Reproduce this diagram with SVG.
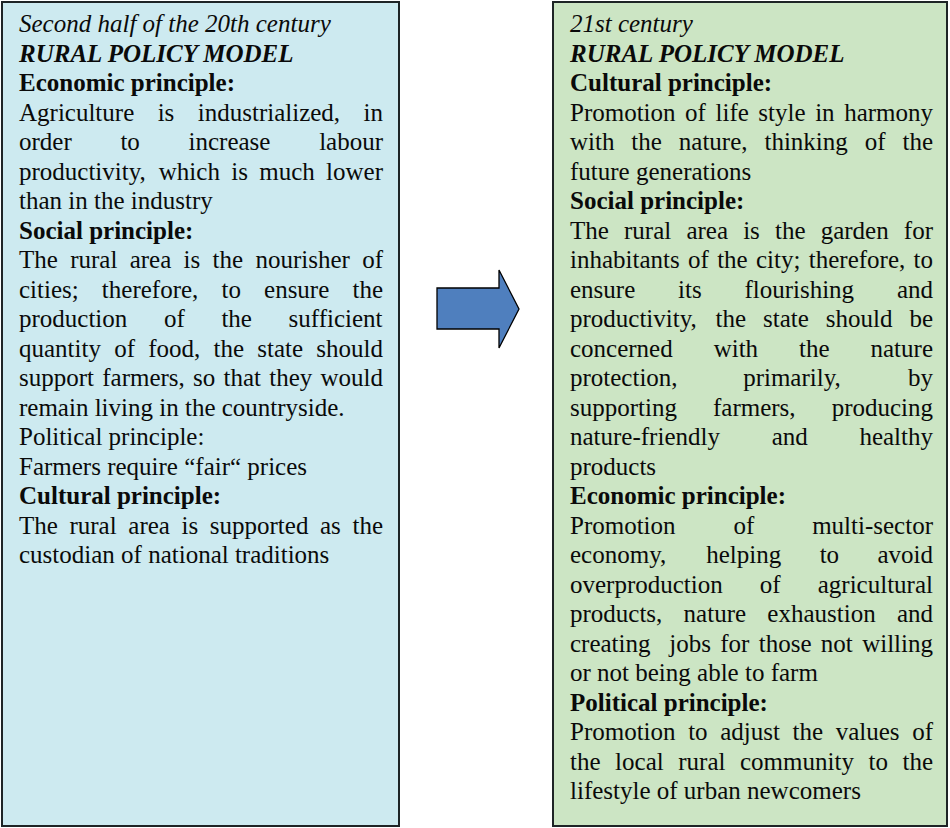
<svg xmlns="http://www.w3.org/2000/svg" width="950" height="828" viewBox="0 0 950 828">
  <style>
    .box { stroke: #1e2426; stroke-width: 2; }
    .blue { fill: #cdeaf0; }
    .green { fill: #cce5c4; }
    .t { font-family: "Liberation Serif", "Times New Roman", serif; font-size: 25px; fill: #0a0a0a; }
    .i { font-style: italic; }
    .b { font-weight: bold; }
    .arrow { fill: #4f7fbe; stroke: #000; stroke-width: 1.3; stroke-linejoin: miter; }
  </style>

  <!-- Left text box: 20th-century model -->
  <g id="model-20th-century">
    <rect class="box blue" x="2" y="2" width="397" height="824"/>
    <text class="t i" x="19" y="32">Second half of the 20th century</text>
    <text class="t i b" x="19" y="61.5">RURAL POLICY MODEL</text>
    <text class="t b" x="19" y="91">Economic principle:</text>
    <text class="t" y="120.5"><tspan x="19">Agriculture</tspan><tspan x="157.67">is</tspan><tspan x="197.77">industrialized,</tspan><tspan x="363.55">in</tspan></text>
    <text class="t" y="150"><tspan x="19">order</tspan><tspan x="120.43">to</tspan><tspan x="188.55">increase</tspan><tspan x="319.13">labour</tspan></text>
    <text class="t" y="179.5"><tspan x="19">productivity,</tspan><tspan x="158.79">which</tspan><tspan x="231.21">is</tspan><tspan x="259.21">much</tspan><tspan x="326.08">lower</tspan></text>
    <text class="t" x="19" y="209">than in the industry</text>
    <text class="t b" x="19" y="238.5">Social principle:</text>
    <text class="t" y="268"><tspan x="19">The</tspan><tspan x="70.18">rural</tspan><tspan x="129.68">area</tspan><tspan x="183.61">is</tspan><tspan x="212.59">the</tspan><tspan x="255.45">nourisher</tspan><tspan x="362.18">of</tspan></text>
    <text class="t" y="297.5"><tspan x="19">cities;</tspan><tspan x="101.86">therefore,</tspan><tspan x="221.47">to</tspan><tspan x="264.06">ensure</tspan><tspan x="352.45">the</tspan></text>
    <text class="t" y="327"><tspan x="19">production</tspan><tspan x="163.95">of</tspan><tspan x="221.4">the</tspan><tspan x="288.58">sufficient</tspan></text>
    <text class="t" y="356.5"><tspan x="19">quantity</tspan><tspan x="114.17">of</tspan><tspan x="148.22">food,</tspan><tspan x="213.51">the</tspan><tspan x="257.28">state</tspan><tspan x="316.33">should</tspan></text>
    <text class="t" y="386"><tspan x="19">support</tspan><tspan x="102.23">farmers,</tspan><tspan x="193.05">so</tspan><tspan x="223.5">that</tspan><tspan x="269.23">they</tspan><tspan x="320.5">would</tspan></text>
    <text class="t" x="19" y="415.5">remain living in the countryside.</text>
    <text class="t" x="19" y="445">Political principle:</text>
    <text class="t" x="19" y="474.5">Farmers require “fair“ prices</text>
    <text class="t b" x="19" y="504">Cultural principle:</text>
    <text class="t" y="533.5"><tspan x="19">The</tspan><tspan x="69.48">rural</tspan><tspan x="128.29">area</tspan><tspan x="181.52">is</tspan><tspan x="209.81">supported</tspan><tspan x="320.01">as</tspan><tspan x="352.45">the</tspan></text>
    <text class="t" x="19" y="563">custodian of national traditions</text>
  </g>

  <!-- Right text box: 21st-century model -->
  <g id="model-21st-century">
    <rect class="box green" x="553" y="2" width="394" height="824"/>
    <text class="t i" x="570" y="32">21st century</text>
    <text class="t i b" x="570" y="61.5">RURAL POLICY MODEL</text>
    <text class="t b" x="570" y="91">Cultural principle:</text>
    <text class="t" y="120.5"><tspan x="570">Promotion</tspan><tspan x="685.12">of</tspan><tspan x="715.49">life</tspan><tspan x="758.36">style</tspan><tspan x="815.13">in</tspan><tspan x="844.13">harmony</tspan></text>
    <text class="t" y="150"><tspan x="570">with</tspan><tspan x="631.36">the</tspan><tspan x="678.82">nature,</tspan><tspan x="764.46">thinking</tspan><tspan x="864.72">of</tspan><tspan x="902.45">the</tspan></text>
    <text class="t" x="570" y="179.5">future generations</text>
    <text class="t b" x="570" y="209">Social principle:</text>
    <text class="t" y="238.5"><tspan x="570">The</tspan><tspan x="624.03">rural</tspan><tspan x="686.38">area</tspan><tspan x="743.15">is</tspan><tspan x="774.98">the</tspan><tspan x="820.68">garden</tspan><tspan x="903.85">for</tspan></text>
    <text class="t" y="268"><tspan x="570">inhabitants</tspan><tspan x="688.03">of</tspan><tspan x="717.16">the</tspan><tspan x="756.02">city;</tspan><tspan x="808.77">therefore,</tspan><tspan x="913.55">to</tspan></text>
    <text class="t" y="297.5"><tspan x="570">ensure</tspan><tspan x="678.02">its</tspan><tspan x="744.41">flourishing</tspan><tspan x="896.9">and</tspan></text>
    <text class="t" y="327"><tspan x="570">productivity,</tspan><tspan x="715.44">the</tspan><tspan x="762.96">state</tspan><tspan x="825.76">should</tspan><tspan x="909.4">be</tspan></text>
    <text class="t" y="356.5"><tspan x="570">concerned</tspan><tspan x="713.66">with</tspan><tspan x="799.04">the</tspan><tspan x="870.53">nature</tspan></text>
    <text class="t" y="386"><tspan x="570">protection,</tspan><tspan x="743.16">primarily,</tspan><tspan x="908">by</tspan></text>
    <text class="t" y="415.5"><tspan x="570">supporting</tspan><tspan x="712.99">farmers,</tspan><tspan x="831.63">producing</tspan></text>
    <text class="t" y="445"><tspan x="570">nature-friendly</tspan><tspan x="771.63">and</tspan><tspan x="859.4">healthy</tspan></text>
    <text class="t" x="570" y="474.5">products</text>
    <text class="t b" x="570" y="504">Economic principle:</text>
    <text class="t" y="533.5"><tspan x="570">Promotion</tspan><tspan x="733.46">of</tspan><tspan x="812.18">multi-sector</tspan></text>
    <text class="t" y="563"><tspan x="570">economy,</tspan><tspan x="706.27">helping</tspan><tspan x="819.63">to</tspan><tspan x="877.45">avoid</tspan></text>
    <text class="t" y="592.5"><tspan x="570">overproduction</tspan><tspan x="759.84">of</tspan><tspan x="817.75">agricultural</tspan></text>
    <text class="t" y="622"><tspan x="570">products,</tspan><tspan x="683.6">nature</tspan><tspan x="767.33">exhaustion</tspan><tspan x="896.9">and</tspan></text>
    <text class="t" y="651.5"><tspan x="570">creating</tspan><tspan x="669.22">jobs</tspan><tspan x="720.24">for</tspan><tspan x="758.73">those</tspan><tspan x="820.85">not</tspan><tspan x="862.15">willing</tspan></text>
    <text class="t" x="570" y="681">or not being able to farm</text>
    <text class="t b" x="570" y="710.5">Political principle:</text>
    <text class="t" y="740"><tspan x="570">Promotion</tspan><tspan x="688.18">to</tspan><tspan x="720.23">adjust</tspan><tspan x="792.55">the</tspan><tspan x="835.7">values</tspan><tspan x="912.18">of</tspan></text>
    <text class="t" y="769.5"><tspan x="570">the</tspan><tspan x="615.1">local</tspan><tspan x="678.25">rural</tspan><tspan x="740">community</tspan><tspan x="868.45">to</tspan><tspan x="902.45">the</tspan></text>
    <text class="t" x="570" y="799">lifestyle of urban newcomers</text>
  </g>

  <!-- Transition arrow between the two models -->
  <g id="connectors">
    <polygon class="arrow" points="437,288 499,288 499,270 519,309 499,348 499,329 437,329"/>
  </g>
</svg>
